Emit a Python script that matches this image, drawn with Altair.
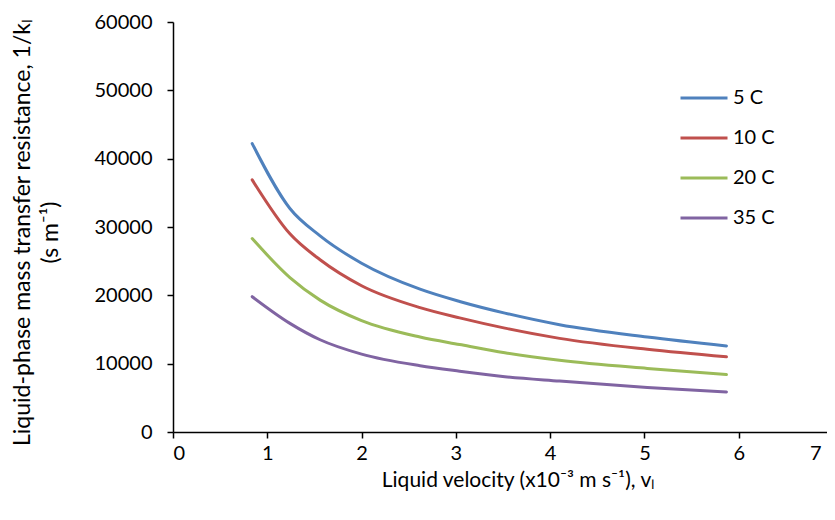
import altair as alt
import pandas as pd

# Liquid velocity (x10^-3 m/s)
velocity = [0.84, 1.24, 1.56, 2.0, 2.62, 3.04, 3.52, 4.10, 5.03, 5.87]
series_names = ["5 C", "10 C", "20 C", "35 C"]
res_5c = [42200, 32700, 28700, 24700, 20900, 19100, 17400, 15700, 13900, 12600]
res_10c = [36900, 29000, 25200, 21400, 18200, 16700, 15200, 13700, 12100, 11000]
res_20c = [28300, 22600, 19300, 16300, 13900, 12800, 11600, 10500, 9300, 8400]
res_35c = [19800, 15900, 13500, 11400, 9700, 8900, 8100, 7450, 6500, 5850]
colors = ["#4F81BD", "#C0504D", "#9BBB59", "#8064A2"]
x_ticks = [0, 1, 2, 3, 4, 5, 6, 7]
y_ticks = [0, 10000, 20000, 30000, 40000, 50000, 60000]

rows = []
for name, vals in zip(series_names, [res_5c, res_10c, res_20c, res_35c]):
    for v, r in zip(velocity, vals):
        rows.append({"v": v, "r": r, "series": name})
df = pd.DataFrame(rows)

FONT = "Lato"

chart = alt.Chart(df).mark_line(strokeWidth=3, interpolate="monotone", strokeCap="round").encode(
    x=alt.X("v:Q",
            scale=alt.Scale(domain=[0, 7], nice=False, zero=False, range=[0, 660]),
            axis=alt.Axis(values=x_ticks, format="d",
                          title="Liquid velocity (x10\u207b\u00b3 m s\u207b\u00b9), v\u2097",
                          titleX=345, titleY=48, titleBaseline="middle",
                          labelPadding=5,
                          labelOffset=alt.ExprRef("datum.value == 7 ? -12 : 0"))),
    y=alt.Y("r:Q",
            scale=alt.Scale(domain=[0, 60000], nice=False),
            axis=alt.Axis(values=y_ticks, format="d",
                          title=["Liquid-phase mass transfer resistance, 1/k\u2097", "(s m\u207b\u00b9)"],
                          titleX=-151, titleY=210, titleBaseline="middle", titleFontSize=23,
                          titleLineHeight=28, labelPadding=15)),
    color=alt.Color("series:N",
                    scale=alt.Scale(domain=series_names, range=colors),
                    legend=alt.Legend(title=None, orient="none", legendX=506, legendY=51,
                                      symbolType="stroke", symbolSize=2209,
                                      symbolStrokeWidth=3, labelFontSize=20, labelFont=FONT,
                                      labelColor="black", rowPadding=5, labelOffset=4)),
).properties(
    width=654, height=410,
    autosize=alt.AutoSizeParams(type="none"),
    padding={"left": 165, "top": 14, "right": 0, "bottom": 72},
).configure_view(stroke=None).configure_axis(
    grid=False, domainColor="black", domainWidth=1.5, tickColor="black", tickWidth=1.5,
    tickSize=6, labelFont=FONT, labelFontSize=20, labelColor="black",
    titleFont=FONT, titleFontSize=21, titleFontWeight="normal", titleColor="black",
)

chart.save("out.html", embed_options={"renderer": "svg", "actions": False})
